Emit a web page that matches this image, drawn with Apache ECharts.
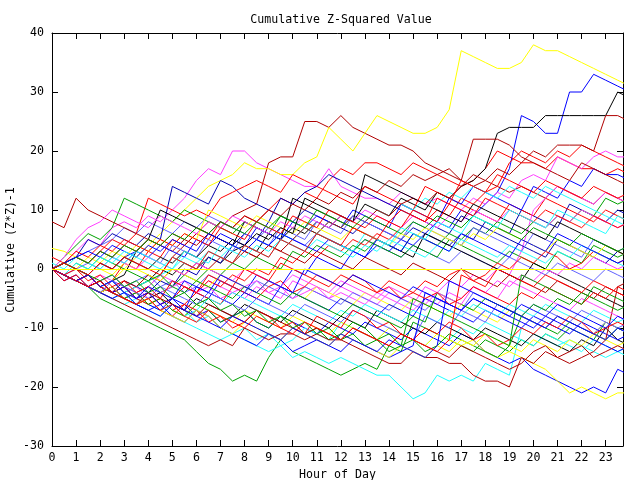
<!DOCTYPE html>
<html>
<head>
<meta charset="utf-8">
<script src="https://cdn.jsdelivr.net/npm/echarts@6/dist/echarts.min.js"></script>
<style>
  html, body { margin: 0; padding: 0; background: #fff; }
  #chart { width: 640px; height: 480px; }
</style>
</head>
<body>
<div id="chart"></div>
<script>
// one value every half hour, 0h .. 24h (49 values per walk)
const stepHours = 0.5;
const hourTicks = ['0','1','2','3','4','5','6','7','8','9','10','11','12','13','14','15','16','17','18','19','20','21','22','23'];

const redWalks = [
  [0,-1,-2,-1,-3,-2,1,0, 3,2,5,4,6,5,8,7, 9,8,10,12,11,13,12,15, 17,16,18,18,17,16,18,17, 16,15,14,15,17,20,19,18, 18,17,19,18,17,17,16,17, 16],
  [0,1,2,1,3,5,4,6, 12,11,10,9,10,9,12,13, 14,15,14,13,16,15,14,13, 12,11,14,13,12,11,10,14, 13,12,11,10,9,8,11,10, 9,12,11,10,9,8,10,9, 8],
  [0,-1,-2,-3,-2,-4,-3,-5, -4,-6,-5,-3,-4,-2,-3,-1, -2,0,-1,2,1,3,2,4, 3,5,4,6,5,7,9,8, 10,9,12,11,13,14,18,20, 19,18,20,19,21,20,19,18, 17],
  [0,-1,-2,-1,-3,-4,-3,-5, -6,-5,-7,-6,-4,-5,-6,-3, -4,-5,-3,-2,-4,-3,-1,-2, -3,-1,-2,-4,-3,-5,-4,-2, -3,-1,0,-2,-1,1,0,2, 1,3,2,0,1,3,2,1, 2],
  [0,-2,-1,-3,-4,-3,-5,-6, -5,-7,-8,-6,-7,-9,-8,-10, -9,-7,-8,-10,-9,-11,-8,-9, -10,-7,-8,-10,-9,-11,-12,-10, -11,-9,-10,-12,-11,-13,-12,-10, -11,-9,-10,-8,-9,-11,-10,-9, -10],
  [2,1,3,2,4,3,5,4, 3,5,4,6,5,4,7,6, 5,8,7,6,9,8,7,10, 9,8,7,9,8,7,10,9, 8,11,10,9,12,11,10,9, 8,10,9,8,7,9,8,7, 8],
  [0,-1,0,-2,-1,-3,-2,-4, -3,-5,-2,-3,-4,-1,-2,-3, 0,-1,-2,1,0,-1,-2,-3, -1,-2,-3,-4,-2,-3,-4,-5, -4,-6,-5,-3,-4,-5,-6,-4, -5,-3,-4,-5,-6,-4,-5,-3, -4],
  [0,1,0,-1,1,0,2,1, 0,-1,2,1,0,3,2,1, 4,3,2,5,4,3,6,5, 4,7,6,5,8,10,9,8, 12,11,15,14,13,16,15,14, 13,15,14,13,12,14,13,12, 13],
  [0,-1,-2,-3,-2,-4,-5,-6, -5,-7,-6,-8,-9,-7,-8,-9, -10,-8,-9,-10,-11,-9,-10,-11, -12,-10,-11,-12,-13,-11,-12,-13, -14,-12,-1,-2,-3,0,-1,-2, -3,-1,-2,-3,-4,-2,-3,-4, -5]
];

const greenWalks = [
  [0,-1,-2,-3,-5,-6,-7,-8, -9,-10,-11,-12,-14,-16,-17,-19, -18,-19,-15,-12,-14,-15,-16,-17, -18,-17,-16,-17,-13,-14,-9,-10, -11,-12,-13,-14,-12,-13,-14,-12, -13,-11,-12,-10,-11,-12,-9,-10, -11],
  [0,2,4,6,5,7,12,11, 10,9,8,10,9,8,7,6, 8,7,6,9,8,7,6,5, 4,3,5,4,3,2,4,3, 2,5,4,3,2,1,3,2, 1,0,3,2,1,4,3,2, 3],
  [0,-1,-2,-1,-3,-2,-4,-3, -2,-4,-3,-1,-2,0,-1,1, 0,2,1,0,3,2,4,3, 2,4,3,5,4,3,6,5, 4,6,5,7,6,8,7,6, 8,7,9,8,10,9,12,11, 12],
  [0,-1,-2,-3,-2,-4,-5,-4, -6,-5,-7,-8,-6,-7,-9,-8, -7,-9,-10,-8,-9,-11,-10,-12, -11,-9,-10,-12,-11,-13,-12,-14, -13,-11,-12,-13,-14,-15,-13,-8, -9,-10,-11,-9,-10,-11,-12,-10, -11],
  [0,-1,1,0,2,1,0,-1, -2,-1,-3,-4,-2,-3,-4,-5, -3,-4,-5,-6,-4,-5,-6,-7, -8,-6,-7,-8,-9,-10,-8,-9, -4,-5,-6,-7,-5,-6,-7,-8, -6,-7,-5,-6,-4,-5,-6,-7, -6],
  [0,1,2,1,3,2,4,3, 5,4,6,5,7,6,8,7, 6,8,7,9,8,7,10,9, 8,7,9,8,7,6,8,7, 9,8,7,9,8,7,6,5, 7,6,5,4,6,5,4,3, 4],
  [0,1,0,-1,-2,-1,-3,-2, -4,-3,-5,-4,-6,-5,-7,-6, -8,-7,-9,-8,-10,-9,-11,-10, -12,-11,-13,-12,-14,-13,-5,-6, -7,-8,-9,-10,-11,-12,-13,-1, -2,-3,-4,-5,-6,-3,-4,-5, -6]
];

const blueWalks = [
  [0,-1,-2,-1,-3,-4,-3,-5, -4,-6,-5,-3,-4,-5,-2,-3, -4,-1,-2,-3,0,-1,2,1, 0,3,2,4,3,5,4,6, 8,7,10,9,11,13,17,26, 25,23,23,30,30,33,32,31, 30],
  [0,-1,-2,-3,-2,-4,-5,-4, -6,-7,-5,-6,-8,-7,-9,-8, -7,-9,-10,-8,-9,-10,-11,-9, -10,-11,-9,-10,-11,-12,-10,-11, -12,-13,-11,-12,-14,-15,-16,-15, -17,-18,-19,-20,-21,-20,-21,-17, -18],
  [0,1,0,-1,1,0,2,3, 2,4,3,2,5,4,6,5, 4,7,6,5,8,7,9,8, 7,10,9,8,7,11,10,9, 8,12,11,14,13,12,11,10, 14,13,12,15,14,17,16,16, 15],
  [0,-2,-1,-3,-2,-4,-3,-5, -4,-6,-5,-7,-3,-4,-5,-6, -4,-5,-6,-3,-4,-5,-6,-7, -5,-6,-7,-8,-6,-7,-8,-5, -6,-7,-8,-9,-7,-8,-9,-10, -8,-9,-10,-11,-9,-10,-11,-12, -11],
  [0,-1,-2,-3,-4,-3,-5,-6, -7,-6,-8,-9,-7,-8,-10,-11, -12,-13,-11,-12,-14,-13,-12,-13, -14,-12,-13,-14,-15,-14,-13,-4, -5,-6,-7,-5,-6,-7,-8,-9, -10,-8,-9,-10,-11,-12,-13,-14, -13],
  [0,1,2,3,2,4,3,2, 4,3,5,4,3,6,5,4, 3,5,4,6,5,4,3,5, 4,3,2,5,4,3,6,5, 4,3,6,5,4,3,2,5, 4,3,6,5,4,3,2,1, 2],
  [0,-1,-2,-1,-3,-2,-4,-5, -3,-4,-5,-2,-3,-4,-1,-2, -3,-4,-2,-3,-4,0,-1,-2, -3,-1,-2,-3,-4,-5,-3,-4, -5,-6,-7,-5,-6,-7,-8,-6, -7,-8,-6,-7,-8,-9,-10,-8, -9],
  [0,-1,-2,-3,-4,-5,-4,-6, -7,-8,-6,-7,-8,-9,-10,-8, -9,-10,-11,-12,-10,-11,-12,-13, -11,-12,-13,-14,-12,-13,-14,-15, -13,-2,-3,-4,-5,-6,-7,-8, -9,-10,-8,-9,-10,-11,-12,-10, -11]
];

const navyWalks = [
  [0,1,2,5,4,6,5,4, 6,5,14,13,12,11,15,14, 12,11,10,9,8,10,9,8, 7,6,8,7,6,5,7,6, 5,4,6,5,8,7,6,10, 9,8,7,11,10,9,8,10, 9],
  [0,-1,-2,-1,-3,-4,-2,-3, -4,-2,-3,0,-1,2,1,4, 6,5,8,12,11,13,14,16, 15,14,13,12,11,10,9,8, 7,6,9,8,7,6,5,4, 3,2,5,4,3,2,1,3, 2]
];

const magentaWalks = [
  [0,1,3,5,4,7,8,7, 9,8,10,12,15,17,16,20, 20,18,17,16,15,14,14,17, 14,13,12,12,11,13,12,11, 12,11,10,12,11,13,12,15, 16,15,19,18,17,19,20,19, 19],
  [0,-1,-2,-3,-1,-2,-3,-4, -3,-1,-2,-3,-4,-2,-3,-4, -5,-3,-4,-5,-2,-3,-4,-5, -3,-4,-5,-6,-4,-5,-6,-3, -4,-2,-3,-1,-2,0,-1,3, 10,12,14,13,12,11,13,12, 11],
  [0,-1,-2,-1,-3,-2,-4,-3, -5,-4,-3,-2,-4,-3,-5,-4, -3,-2,-4,-3,-5,-4,-3,-5, -4,-5,-6,-4,-5,-6,-7,-5, -6,-4,-5,-3,-4,-2,-3,-1, -2,0,-1,1,0,2,1,0, 1],
  [0,2,5,7,8,10,9,8, 7,9,8,7,6,8,7,9, 8,7,6,8,7,9,8,7, 9,8,10,9,8,7,9,8, 7,9,8,10,9,8,10,9, 8,7,9,8,10,9,8,7, 8],
  [0,1,2,1,3,2,1,0, 2,1,0,-1,1,0,-1,-2, 0,-1,-2,-3,-1,-2,-3,-4, -2,-3,-4,-5,-3,-4,-5,-6, -4,-5,-6,-3,-4,-5,-2,-3, -4,-5,-6,-7,-5,-6,-7,-8, -9]
];

const cyanWalks = [
  [0,-1,-2,-3,-4,-5,-6,-5, -6,-7,-8,-9,-10,-11,-12,-11, -12,-13,-14,-13,-15,-14,-15,-16, -15,-16,-17,-18,-18,-20,-22,-21, -18,-19,-18,-19,-16,-17,-18,-10, -11,-12,-13,-12,-13,-14,-15,-14, -15],
  [0,-1,-2,-3,-2,-4,-5,-6, -7,-8,-6,-7,-9,-8,-10,-11, -10,-12,-11,-13,-12,-10,-11,-12, -9,-10,-11,-12,-10,-11,-12,-13, -11,-12,-10,-11,-9,-10,-11,-12, -13,-11,-12,-13,-14,-12,-13,-14, -13],
  [0,-1,-2,-1,-3,-2,-4,-3, -2,-1,0,2,1,3,2,4, 3,5,4,6,5,7,6,8, 7,9,8,10,9,11,10,12, 11,13,12,14,13,12,14,13, 12,14,13,12,11,10,9,8, 7],
  [0,-1,-2,-3,-4,-5,-4,-6, -5,-7,-6,-8,-7,-5,-6,-4, -5,-6,-7,-8,-6,-7,-8,-9, -7,-8,-6,-7,-8,-9,-7,-8, -9,-7,-8,-6,-7,-8,-6,-7, -8,-6,-7,-8,-9,-7,-8,-9, -8],
  [1,0,2,1,0,2,1,3, 2,1,0,3,2,1,4,3, 2,4,3,5,4,3,5,4, 3,2,4,3,5,4,3,2, 4,3,5,4,3,2,4,3, 2,1,3,2,4,3,2,1, 0],
  [0,-1,1,0,2,1,3,2, 1,0,2,1,0,3,2,1, 4,3,2,5,4,3,6,5, 4,3,6,5,4,7,6,5, 8,7,6,9,8,7,10,9, 8,7,10,9,8,7,6,9, 8]
];

const darkRedWalks = [
  [0,-1,-2,-3,-4,-3,-5,-4, -3,-1,2,4,6,8,7,9, 10,11,18,19,19,25,25,24, 26,24,23,22,21,21,20,18, 17,16,15,14,15,14,13,14, 13,12,14,13,12,11,13,12, 11],
  [8,7,12,10,9,8,7,6, 5,4,3,5,4,6,5,4, 3,2,4,3,2,1,3,2, 1,0,2,1,0,-1,1,0, -1,-2,0,-1,-2,-3,-1,-2, -3,-4,-2,-3,-4,-5,-3,-4, -5],
  [0,-1,-2,-1,-3,-4,-2,-3, -1,-2,0,-1,1,0,2,1, 3,2,4,3,5,7,6,8, 7,9,8,10,9,11,12,11, 13,12,14,16,15,17,16,18, 20,19,21,21,21,20,26,26, 25],
  [0,-1,-2,-3,-4,-5,-6,-7, -8,-9,-10,-11,-12,-13,-12,-13, -10,-11,-12,-11,-11,-12,-11,-12, -12,-13,-14,-15,-16,-16,-14,-15, -15,-16,-16,-18,-19,-19,-20,-15, -16,-14,-15,-16,-15,-14,-12,-3, -2],
  [0,1,2,1,3,2,4,3, 5,4,6,5,7,6,8,7, 9,8,10,9,11,10,12,11, 13,12,14,13,15,14,16,15, 16,17,15,22,22,22,21,19, 18,17,16,15,18,17,16,15, 14],
  [0,-1,-2,-3,-2,-4,-5,-6, -4,-5,-6,-7,-8,-6,-7,-8, -9,-7,-8,-9,-10,-11,-10,-11, -12,-10,-11,-12,-13,-11,-12,-13, -14,-15,-13,-14,-15,-16,-17,-16, -14,-13,-15,-14,-13,-15,-14,-13, -14]
];

const yellowWalks = [
  [0,-1,-2,-1,-3,-2,0,2, 4,6,8,10,12,14,15,16, 18,17,17,16,16,18,19,24, 22,20,23,26,25,24,23,23, 24,27,37,36,35,34,34,35, 38,37,37,36,35,34,33,32, 31],
  [0,-1,-2,-3,-2,-4,-5,-4, -6,-5,-7,-8,-6,-7,-8,-9, -7,-8,-9,-10,-8,-9,-10,-11, -9,-10,-11,-12,-10,-11,-12,-13, -11,-12,-13,-12,-14,-15,-14,-15, -16,-17,-19,-21,-20,-21,-22,-21, -21],
  [3.5,3,2,1,0,-1,1,0, -1,-2,0,-1,-2,-3,-1,-2, -3,-4,-2,-3,-4,-5,-3,-4, -5,-6,-4,-5,-6,-7,-5,-6, -7,-8,-6,-7,-8,-9,-7,-8, -9,-10,-8,-9,-10,-11,-9,-10, -11],
  [0,1,0,2,1,3,2,4, 3,5,4,6,5,10,9,8, 7,9,8,7,6,8,7,6, 5,7,6,5,4,6,5,7, 6,5,4,6,5,7,6,5, 4,3,5,4,3,2,4,3, 2],
  [0,-1,-2,-3,-4,-3,-5,-6, -5,-7,-8,-9,-7,-8,-10,-11, -9,-10,-11,-12,-10,-11,-12,-13, -11,-12,-13,-14,-15,-13,-14,-15, -13,-14,-12,-13,-11,-12,-13,-14, -12,-13,-14,-12,-13,-11,-12,-13, -12]
];

const blackWalks = [
  [0,-1,-2,-1,-3,-2,-4,-3, -2,0,-1,1,0,2,1,3, 4,3,6,5,7,6,8,7, 9,8,11,10,9,12,11,10, 13,12,14,15,17,23,24,24, 24,26,26,26,26,26,26,30, 29],
  [0,-1,-2,-1,-3,-2,-1,3, 5,10,9,8,7,6,5,4, 8,7,6,5,12,11,10,9, 8,7,6,5,4,3,2,6, 5,4,3,2,1,0,-1,-2, 1,0,-1,-2,-3,-4,-5,-6, -7],
  [0,-1,-2,-3,-4,-3,-5,-6, -5,-4,-6,-7,-5,-6,-7,-8, -6,-7,-8,-9,-7,-8,-9,-10, -8,-9,-10,-7,-8,-9,-10,-11, -9,-10,-11,-12,-10,-11,-12,-13, -11,-12,-13,-14,-12,-13,-10,-12, -13],
  [0,1,0,-1,1,0,2,1, 0,2,1,3,2,4,3,5, 4,6,5,7,6,12,11,10, 9,8,16,15,14,13,12,11, 10,9,8,11,10,9,8,7, 6,5,8,7,6,5,4,3, 2]
];

const slateWalks = [
  [0,1,2,3,4,5,7,6, 8,7,6,8,7,9,8,7, 6,5,7,6,5,4,6,5, 4,3,5,4,3,2,4,3, 2,1,3,2,1,0,2,1, 0,-1,1,0,-1,-2,0,-1, -2],
  [0,-1,-2,-3,-2,-1,-3,-2, -1,-3,-2,-4,-3,-1,-2,-3, -4,-2,-3,-4,-5,-3,-4,-5, -6,-4,-5,-6,-7,-5,-6,-7, -5,-6,-7,-4,-5,-6,-7,-8, -6,-7,-8,-9,-7,-8,-9,-10, -9],
  [0,-1,0,1,0,2,1,3, 2,1,4,3,2,5,4,3, 6,5,4,7,6,5,8,7, 6,9,8,7,6,5,8,7, 6,5,4,7,6,5,4,3, 6,5,4,3,2,5,4,3, 4],
  [0,-1,-2,-3,-4,-2,-3,-4, -5,-3,-4,-5,-6,-4,-5,-6, -7,-5,-6,-7,-8,-6,-7,-8, -9,-7,-8,-9,-10,-11,-12,-8, -9,-10,-7,-8,-9,-6,-7,-8, -9,-10,-8,-9,-10,-11,-9,-10, -11]
];

const groups = [
  { color: '#ff0000', walks: redWalks },
  { color: '#00a000', walks: greenWalks },
  { color: '#0000ff', walks: blueWalks },
  { color: '#ff40ff', walks: magentaWalks },
  { color: '#20ffff', walks: cyanWalks },
  { color: '#b00000', walks: darkRedWalks },
  { color: '#ffff00', walks: yellowWalks },
  { color: '#000000', walks: blackWalks },
  { color: '#6060ff', walks: slateWalks },
  { color: '#0000b0', walks: navyWalks }
];

const seriesList = [];
// yellow zero line underneath everything
seriesList.push({
  type: 'line', data: [], silent: true,
  markLine: {
    silent: true, symbol: 'none', label: { show: false },
    lineStyle: { color: '#ffff00', width: 1, type: 'solid', opacity: 1 },
    data: [{ yAxis: 0 }]
  }
});
// interleave colours like a plotting program cycling its palette
for (let k = 0; k < 9; k++) {
  groups.forEach(function (g) {
    const w = g.walks[k];
    if (!w) return;
    seriesList.push({
      type: 'line',
      data: w.map(function (v, i) { return [i * stepHours, v]; }),
      showSymbol: false,
      silent: true,
      lineStyle: { color: g.color, width: 1 },
      itemStyle: { color: g.color }
    });
  });
}

const font = 'DejaVu Sans Mono';
const chart = echarts.init(document.getElementById('chart'));
chart.setOption({
  animation: false,
  title: {
    text: 'Cumulative Z-Squared Value',
    left: 336, top: 9, textAlign: 'center',
    textStyle: { fontFamily: font, fontSize: 11.6, fontWeight: 'normal', color: '#000' }
  },
  graphic: [{
    type: 'text', x: 11, y: 250, rotation: Math.PI / 2,
    style: {
      text: 'Cumulative (Z*Z)-1', fill: '#000',
      font: '11.6px "DejaVu Sans Mono"', align: 'center', verticalAlign: 'middle'
    }
  }],
  grid: { left: 52, right: 17, top: 33, bottom: 34, containLabel: false, outerBoundsMode: 'none' },
  xAxis: [{
    type: 'value', min: 0, max: 23.72, interval: 1,
    name: 'Hour of Day', nameLocation: 'middle', nameGap: 22,
    nameTextStyle: { fontFamily: font, fontSize: 11.6, color: '#000' },
    axisLine: { show: true, onZero: false, lineStyle: { color: '#000', width: 1 } },
    axisTick: { show: true, inside: true, length: 6, lineStyle: { color: '#000' } },
    axisLabel: {
      fontFamily: font, fontSize: 11.6, color: '#000', margin: 6, showMaxLabel: false,
      formatter: function (v) { return hourTicks[v] !== undefined && Number.isInteger(v) ? hourTicks[v] : ''; }
    },
    splitLine: { show: false }
  }, {
    type: 'value', min: 0, max: 23.72, interval: 1, position: 'top',
    axisLine: { show: true, onZero: false, lineStyle: { color: '#000', width: 1 } },
    axisTick: { show: true, inside: true, length: 6, lineStyle: { color: '#000' } },
    axisLabel: { show: false }, splitLine: { show: false }
  }],
  yAxis: [{
    type: 'value', min: -30, max: 40, interval: 10,
    axisLine: { show: true, onZero: false, lineStyle: { color: '#000', width: 1 } },
    axisTick: { show: true, inside: true, length: 6, lineStyle: { color: '#000' } },
    axisLabel: { fontFamily: font, fontSize: 11.6, color: '#000', margin: 8 },
    splitLine: { show: false }
  }, {
    type: 'value', min: -30, max: 40, interval: 10, position: 'right',
    axisLine: { show: true, onZero: false, lineStyle: { color: '#000', width: 1 } },
    axisTick: { show: true, inside: true, length: 6, lineStyle: { color: '#000' } },
    axisLabel: { show: false }, splitLine: { show: false }
  }],
  series: seriesList
});
</script>
</body>
</html>
